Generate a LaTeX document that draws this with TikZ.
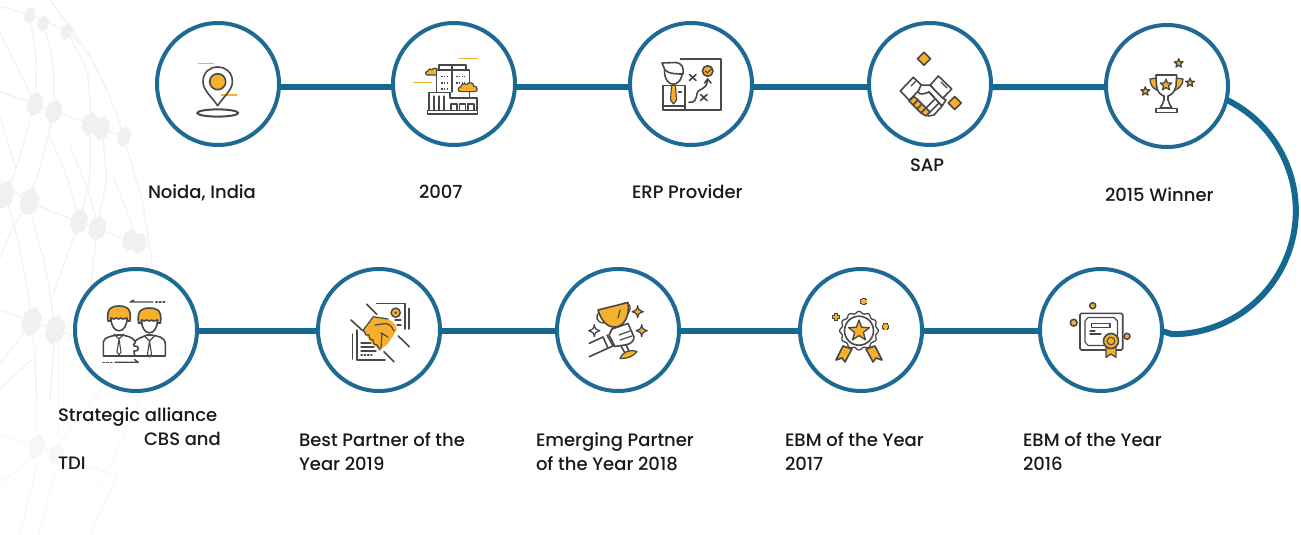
\documentclass[tikz,border=0pt]{standalone}
\usepackage{fontspec}
\setmainfont{Poppins Medium}
\definecolor{ringblue}{HTML}{1E6A94}
\definecolor{linkblue}{HTML}{15688F}
\definecolor{ikorange}{HTML}{F7B02B}
\definecolor{ikdark}{HTML}{484848}
\definecolor{netgray}{HTML}{F2F2F2}
\definecolor{hexgray}{HTML}{F0F0F0}
\definecolor{palegray}{HTML}{F7F7F7}
\tikzset{
  ringnode/.style={circle,draw=ringblue,line width=4pt,fill=white,minimum size=122pt,inner sep=0pt,outer sep=0pt},
  linkline/.style={draw=linkblue,line width=6pt},
  labeltext/.style={inner sep=0pt,outer sep=0pt,align=left,text=black!90,font=\fontsize{18}{24}\selectfont},
  ik/.style={draw=ikdark,line width=1.6pt,line join=round,line cap=round},
  ikthin/.style={draw=ikdark,line width=1.1pt,line join=round,line cap=round},
  ikfill/.style={ik,fill=ikorange},
  ikdash/.style={draw=ikorange,line width=1.6pt},
  netline/.style={draw=netgray,line width=1.2pt},
  paleline/.style={draw=palegray,line width=1.1pt},
}
\newcommand\ikstar[3]{\begin{scope}[shift={(#1,#2)}]\draw[ikfill,line width=1.3pt] (-90:#3) -- (-54:.42*#3) -- (-18:#3) -- (18:.42*#3) -- (54:#3) -- (90:.42*#3) -- (126:#3) -- (162:.42*#3) -- (198:#3) -- (234:.42*#3) -- cycle;\end{scope}}
\newcommand\ikdiamond[3]{\draw[ikfill] (#1,#2-#3) -- (#1+#3,#2) -- (#1,#2+#3) -- (#1-#3,#2) -- cycle;}
\newcommand\iksparkle[3]{\draw[ik,fill=#3,line width=1.3pt] (#1,#2-6) .. controls (#1+.8,#2-1.8) .. (#1+5.5,#2) .. controls (#1+.8,#2+1.8) .. (#1,#2+6) .. controls (#1-.8,#2+1.8) .. (#1-5.5,#2) .. controls (#1-.8,#2-1.8) .. cycle;}
\newcommand\ikplus[2]{\draw[ikdark,line width=4.4pt] (#1-3.6,#2) -- (#1+3.6,#2) (#1,#2-3.6) -- (#1,#2+3.6);\draw[ikorange,line width=2.6pt] (#1-2.8,#2) -- (#1+2.8,#2) (#1,#2-2.8) -- (#1,#2+2.8);}
\newcommand\ikcloud[3]{\begin{scope}[shift={(#1,#2)},scale=#3]\draw[ikfill,line width=1.2pt] (-9,5) .. controls (-12,5) and (-12,0) .. (-8,-.5) .. controls (-8,-4) and (-3,-4) .. (-2,-2.5) .. controls (0,-6) and (6,-5) .. (5.5,-1) .. controls (10,-1.5) and (11,5) .. (7,5) -- cycle;\end{scope}}
\newcommand\ikhex[4]{\fill[#4,rotate around={-15:(#1,#2)}] (#1,#2-#3) -- (#1+.58*#3,#2-.5*#3) -- (#1+.58*#3,#2+.5*#3) -- (#1,#2+#3) -- (#1-.58*#3,#2+.5*#3) -- (#1-.58*#3,#2-.5*#3) -- cycle;}
\begin{document}
\begin{tikzpicture}[x=1pt,y=-1pt]
\useasboundingbox (0,0) rectangle (1301,535);
\fill[white] (0,0) rectangle (1301,535);
% background network (coordinates are zoomed pixels, 3 to a unit)
\begin{scope}[x=.3333pt,y=-.3333pt]
\foreach \pts in {
 {(0,1305) (110,1340) (350,1430)},
 {(0,1450) (100,1370)},
 {(110,1400) (60,1605)},
 {(165,1420) (115,1605)},
 {(350,1430) (270,1605)},
 {(310,1160) (160,1350)},
 {(420,1185) (330,1400) (290,1460)},
 {(110,1020) (110,1305)},
 {(175,1020) (175,1310)}}
 {\draw[paleline] plot[smooth,tension=.5] coordinates \pts;}
\ikhex{110}{1340}{38}{palegray}
\ikhex{170}{1365}{34}{palegray}
\foreach \pts in {
 {(0,275) (105,312) (162,335) (270,372) (370,410)},
 {(0,540) (88,605) (237,665) (292,685) (450,745)},
 {(0,930) (95,965) (165,990) (260,1020)},
 {(0,20) (90,45) (200,95) (240,135)},
 {(90,45) (108,180) (100,312) (50,500) (15,585)},
 {(162,335) (115,520) (88,605) (140,820) (165,990)},
 {(270,372) (268,530) (237,665) (160,880)},
 {(305,385) (318,540) (292,685) (265,930)},
 {(370,410) (425,600) (450,745) (455,790)},
 {(88,605) (35,690) (0,775)},
 {(15,585) (60,750) (95,965) (110,1200)},
 {(165,990) (150,1200)},
 {(130,70) (160,200) (162,335)},
 {(200,95) (262,220) (270,372)},
 {(0,100) (50,200) (105,312)},
 {(150,0) (270,170) (345,330) (370,410)},
 {(95,965) (40,1040) (0,1090)},
 {(210,440) (260,560) (300,700)},
 {(340,530) (390,660) (405,730)},
 {(0,350) (30,450) (50,510)},
 {(0,1170) (60,1110) (95,1080)},
 {(145,400) (200,530) (237,665)}}
 {\draw[netline] plot[smooth,tension=.5] coordinates \pts;}
\foreach \x/\y/\r in {105/312/38,162/335/38,270/372/38,305/385/38,372/410/32,15/585/44,88/605/44,237/665/40,292/685/40,390/720/36,418/730/34,95/965/46,165/990/46,90/45/26,130/70/26,200/95/26}
 {\ikhex{\x}{\y}{\r}{hexgray}}
\end{scope}
% nodes
\node[ringnode] (n1) at (218,84) {};
\node[ringnode] (n2) at (454,84) {};
\node[ringnode] (n3) at (691,84) {};
\node[ringnode] (n4) at (930,84) {};
\node[ringnode] (n5) at (1167,86) {};
\node[ringnode] (n6) at (1101,330) {};
\node[ringnode] (n7) at (861,330) {};
\node[ringnode] (n8) at (618,330) {};
\node[ringnode] (n9) at (379,330) {};
\node[ringnode] (n10) at (136,330) {};
% connectors
\draw[linkline] (n1.-3) -- (n2.183);
\draw[linkline] (n2.-3) -- (n3.183);
\draw[linkline] (n3.-3) -- (n4.183);
\draw[linkline] (n4.-3) -- (n5.181);
\draw[linkline] (n5.-13) arc[start angle=-64,end angle=90,radius=123.5] -- (n6.-1);
\draw[linkline] (n6.181) -- (n7.-1);
\draw[linkline] (n7.181) -- (n8.-1);
\draw[linkline] (n8.181) -- (n9.-1);
\draw[linkline] (n9.181) -- (n10.-1);
% labels
\node[labeltext,anchor=base west] (t1) at (148,198) {Noida, India};
\node[labeltext,anchor=base west] (t2) at (419,198) {2007};
\node[labeltext,anchor=base west] (t3) at (632,198) {ERP Provider};
\node[labeltext,anchor=base west] (t4) at (910,171) {SAP};
\node[labeltext,anchor=base west] (t5) at (1105,201) {2015 Winner};
\node[labeltext,anchor=north west] (t6) at (58,407.5) {Strategic alliance\\\hspace*{86pt}CBS and\\TDI};
\node[labeltext,anchor=north west] (t7) at (299,432.5) {Best Partner of the\\Year 2019};
\node[labeltext,anchor=north west] (t8) at (536,432.5) {Emerging Partner\\of the Year 2018};
\node[labeltext,anchor=north west] (t9) at (785,432.5) {EBM of the Year\\2017};
\node[labeltext,anchor=north west] (t10) at (1023,432.5) {EBM of the Year\\2016};
% icon 1: pin
\draw[ikdash] (198.3,63.7) -- (214.3,63.7) (221,94.7) -- (237.3,94.7);
\draw[ik] (217.7,105.7) .. controls (211,96) and (203,90) .. (203,81.7) .. controls (203,62) and (232.4,62) .. (232.4,81.7) .. controls (232.4,90) and (224,96) .. (217.7,105.7) -- cycle;
\draw[ikfill] (217.7,81.7) circle (8);
\draw[ik,line width=2pt] (217.7,113) ellipse (20.5 and 3.6);
% icon 2: building
\draw[ikdash] (459,58.7) -- (477.7,58.7) (413,82.3) -- (431.7,82.3);
\ikcloud{433.5}{71.5}{.72}
\draw[ikthin,fill=white] (439,65) rectangle (466,70) (452,65) -- (452,70);
\draw[ikthin,fill=white] (436.7,70) rectangle (469.3,100);
\draw[ikthin] (452,70) -- (452,92);
\draw[ikdark,line width=1.6pt,dash pattern=on 1.6pt off 1.2pt] (441,76.5) -- (449,76.5) (456,76.5) -- (465,76.5) (441,83) -- (449,83) (456,83) -- (465,83) (441,89) -- (449,89);
\draw[ikthin,fill=white] (429,92.5) -- (450,92.5) -- (450,98) -- (477,98) -- (477,110.7) -- (429,110.7) -- cycle;
\draw[ikthin] (434,96) -- (434,110.7) (439,96) -- (439,110.7) (444,96) -- (444,110.7);
\draw[ikthin] (451,104) rectangle (457,110.7) (459.5,104) rectangle (465.5,110.7) (468,104) rectangle (474,110.7);
\draw[ikthin,fill=white] (427.7,110.7) rectangle (477.7,114);
\ikcloud{468.5}{87}{.92}
% icon 3: strategist
\draw[ik,line cap=butt,line width=1.8pt] (680,58.7) -- (721,58.7) -- (721,110) -- (685,110);
\draw[ik,fill=white] (664.5,70) .. controls (664,89) and (682.5,89) .. (682.5,70) -- cycle;
\draw[ik,fill=white] (662,63) -- (676,62.5) .. controls (682,63) and (684,68) .. (683,74) .. controls (678,74) and (668,74) .. (665,70) -- cycle;
\draw[ik,fill=white] (662.7,110) -- (662.7,85.5) -- (685,85.5) -- (685,110) -- cycle (662.7,106) -- (685,106);
\draw[ikthin,fill=ikorange] (671.5,85.5) -- (675.5,85.5) -- (676.5,100) -- (673.5,104) -- (670.5,100) -- cycle;
\draw[ikthin] (678.5,92) -- (681.5,92);
\draw[ikfill] (707.7,71) circle (5.3);
\draw[ik,line width=1.1pt] (705.5,71) -- (707.5,73) -- (711.5,68.5);
\draw[ik] (689,102.3) .. controls (695,103) and (696,99) .. (697,94) .. controls (698,87) and (706,92) .. (707.7,80);
\draw[ik] (704.5,83) -- (707.7,79) -- (711,83);
\draw[ik] (689.5,74.5) -- (696,80.5) (696,74.5) -- (689.5,80.5) (700.5,94.5) -- (707,100.5) (707,94.5) -- (700.5,100.5);
% icon 4: handshake
\ikdiamond{924}{58.7}{6.5}
\ikdiamond{954.7}{103}{6.5}
\draw[ik,fill=white] (900.3,91) -- (913.3,77.3) -- (922.7,86.3) -- (909.3,100.3) -- cycle;
\draw[ik,fill=white] (938.3,76) -- (951.7,89) -- (942.7,98.3) -- (930,85.3) -- cycle;
\draw[ikthin] (911,86) -- (916,81) (941,82) -- (947,88);
\draw[ik,fill=white] (930,85.3) -- (921,85) -- (918,92) .. controls (920,96) and (926,93) .. (929,92) -- (942,106) -- (946,100) -- (942.7,98.3) -- cycle;
\draw[ikfill] (909,101) -- (914,96.5) -- (918,100) -- (913,105) -- cycle (913,105) -- (918,100) -- (922,104) -- (917,109) -- cycle (917,109) -- (922,104) -- (926,108) -- (921,113) -- cycle (921,113) -- (926,108) -- (930,112) -- (926,116) -- cycle;
\draw[ik] (929,92) -- (942,106) (934,100) -- (926,108) (938,104) -- (930,112) (942,106) -- (934,115) -- (928,116);
% icon 5: trophy
\draw[ikfill,line width=1.3pt] (1156,78) -- (1150,79) .. controls (1150,85) and (1153,89) .. (1159,91) -- cycle;
\draw[ikfill,line width=1.3pt] (1176,78) -- (1183,79) .. controls (1183,85) and (1179,89) .. (1173,91) -- cycle;
\draw[ik,fill=white] (1156,75) -- (1176.7,75) -- (1176,86) .. controls (1175,92) and (1171,95) .. (1168,96) -- (1168,100) -- (1170,105) -- (1172,108) -- (1160,108) -- (1162,105) -- (1164,100) -- (1164,96) .. controls (1161,95) and (1157,92) .. (1156.5,86) -- cycle;
\draw[ik,fill=white] (1156,108.5) rectangle (1177,112.3);
\ikstar{1166}{85}{6}
\ikstar{1178.7}{63.3}{4.6}
\ikstar{1190}{82.7}{4.6}
\ikstar{1145.3}{91.3}{4.6}
% icon 6: certificate
\filldraw[fill=ikorange,draw=ikdark,line width=1.5pt] (1092.7,305.7) circle (3);
\filldraw[fill=ikorange,draw=ikdark,line width=1.5pt] (1073.7,322.7) circle (3.4);
\filldraw[fill=ikorange,draw=ikdark,line width=1.5pt] (1127,336.3) circle (3);
\draw[ik,rounded corners=1.5pt] (1080,313.3) rectangle (1122.7,350);
\draw[ikthin] (1088,317.5) -- (1114,317.5) -- (1117.5,321) -- (1117.5,342) -- (1114,345.5) -- (1088,345.5) -- (1085,342) -- (1085,321) -- cycle;
\draw[ikthin] (1091.7,323.5) rectangle (1110,327.5);
\draw[ikthin] (1090,334) -- (1101,334) (1090,331) -- (1095,331);
\draw[ikfill,line width=1.3pt] (1106,345) -- (1106,357.3) -- (1111,354) -- (1116,357.3) -- (1116,345) -- cycle;
\draw[ik,fill=ikorange] (1111,341) circle (7.5);
\draw[ikthin,fill=ikorange] (1111,341) circle (3.8);
% icon 7: rosette
\ikplus{863.7}{301.3}
\ikplus{836}{317}
\ikplus{885.3}{326.7}
\draw[ikfill] (843,346) -- (852,349) -- (845,362) -- (842,358) -- (836,360) -- cycle;
\draw[ikfill] (875,346) -- (866,349) -- (873,362) -- (876,358) -- (882,360) -- cycle;
\begin{scope}[shift={(859,330.7)}]
\draw[ik,fill=white,line width=1.3pt] plot[domain=0:360,samples=97,smooth] (\x:{18.3+1.1*cos(12*\x)}) -- cycle;
\draw[ik] (0,0) circle (14.5);
\end{scope}
\ikstar{859}{331}{11}
% icon 8: trophy in hand
\draw[ik,line width=1.3pt] (600,312) .. controls (594,316) and (597,323) .. (604,323);
\draw[ik,line width=1.3pt] (622,304) .. controls (630,300) and (634,309) .. (625,317);
\draw[ikfill] (598,310) -- (628,302.5) .. controls (630,316) and (624,326) .. (616,327) .. controls (607,328) and (601,320) .. (598,310) -- cycle;
\draw[ik,line width=1.2pt] (620,310) -- (618,318);
\iksparkle{637.7}{311.7}{ikorange}
\iksparkle{641.7}{330.7}{ikorange}
\iksparkle{594.3}{330.7}{white}
\draw[ik] (589.3,343.3) -- (603,337) (589.3,356.7) -- (615,345);
\draw[ik,fill=white] (612,329) -- (628,323.5) -- (634,337) .. controls (634,342) and (630,344) .. (625,345) -- (615,346.5) -- (609,335) -- cycle;
\draw[ik,line width=1.2pt] (619,335) -- (630,331) (620,340) -- (632,336);
\draw[ik] (603,337) -- (608,348) (607,335) -- (613,346);
\draw[ik] (621,346) -- (625,353) (626,345) -- (629,351);
\draw[ikfill,line width=1.2pt] (620,358.5) .. controls (622,352) and (630,349) .. (637,351.5) .. controls (634,356) and (627,359) .. (620,358.5) -- cycle;
% icon 9: handshake and papers
\draw[ik,line width=1.5pt] (376.7,303.5) -- (405,303.5) -- (405,329);
\draw[ik,line width=1.5pt] (409,308.5) -- (409,329);
\filldraw[fill=ikorange,draw=ikdark,line width=1.4pt] (395.7,312.7) circle (4.6);
\fill[ikdark] (395.7,312.7) circle (1.4);
\draw[ik,line width=1.3pt] (395,320) -- (401,320) (397,325) -- (401,325);
\draw[ik,line width=1.5pt] (357,330) -- (357,360) -- (385,360) (352.7,334) -- (352.7,359);
\draw[ik,line width=1.3pt] (361,343) -- (371,343) (361,347) -- (374,347) (361,351) -- (376,351);
\draw[ik,line width=1.3pt,dash pattern=on 1.3pt off 2pt] (361,355) -- (372,355);
\fill[ikorange] (373.3,316.7) -- (388,319) .. controls (394,322) and (397,326) .. (396.7,330) -- (388.3,343.3) -- (380,350) -- (371,343) -- (363.3,330) -- cycle;
\draw[ik,line width=1.3pt] (363.3,330) -- (366,335) -- (369,335) -- (370,339) -- (373,340) -- (374,344) -- (377,345) -- (380,350);
\draw[ik,line width=1.2pt] (373.3,316.7) -- (363.3,330) (373.3,316.7) -- (388,319) (375,325) -- (386,323.5) .. controls (391,325) and (393,328) .. (394,331) (381,333) -- (388,337) (382,333) -- (381,348);
\draw[ik] (366.7,304.3) -- (376.7,314.3) (351,320) -- (362.7,330.7) (398.3,336) -- (409.3,346.7) (384,351.7) -- (394,361.7);
% icon 10: partners
\draw[ik,line width=1.3pt] (134,300) -- (130,302) -- (153,302);
\draw[ik,line width=1.5pt,dash pattern=on 1.5pt off 2.2pt] (155.7,302) -- (166,302);
\draw[ik,line width=1.3pt] (115,362.3) -- (138.3,362.3) -- (134.5,359.5);
\draw[ik,line width=1.5pt,dash pattern=on 1.5pt off 2.2pt] (103,362.3) -- (113,362.3);
\draw[ik,fill=white] (103.3,356) -- (103.3,342) .. controls (104,337) and (112,336) .. (117,335) -- (121,335) .. controls (128,336) and (132,337) .. (135,341) .. controls (140,337) and (146,336) .. (147,335) -- (151,335) .. controls (158,336) and (165,337) .. (165.3,344) -- (165.3,356) -- cycle;
\draw[ik] (135,341) .. controls (137,343) and (132,344) .. (134,346) .. controls (140,345) and (140,352) .. (134,351) .. controls (133,352) and (135,354) .. (135,356);
\foreach \cx/\cy in {119/318,149.5/320}{
  \draw[ik,fill=white] (\cx-8,\cy) .. controls (\cx-8,\cy+17) and (\cx+8,\cy+17) .. (\cx+8,\cy) -- cycle;
  \draw[ik,fill=ikorange] (\cx-11,\cy+3) .. controls (\cx-13,\cy-11) and (\cx-6,\cy-12) .. (\cx,\cy-12) .. controls (\cx+6,\cy-12) and (\cx+13,\cy-11) .. (\cx+11,\cy+3) -- (\cx+8,\cy+3) -- (\cx+8,\cy) -- (\cx+4,\cy+1) -- (\cx+2,\cy) -- (\cx,\cy+1) -- (\cx-3,\cy) -- (\cx-5,\cy+1) -- (\cx-8,\cy) -- (\cx-8,\cy+3) -- cycle;
  \draw[ikthin] (\cx-5,\cy+16) -- (\cx,\cy+21) -- (\cx+5,\cy+16) (\cx,\cy+21) -- (\cx-2,\cy+34) -- (\cx,\cy+37) -- (\cx+2,\cy+34) -- cycle;
}
\end{tikzpicture}
\end{document}
